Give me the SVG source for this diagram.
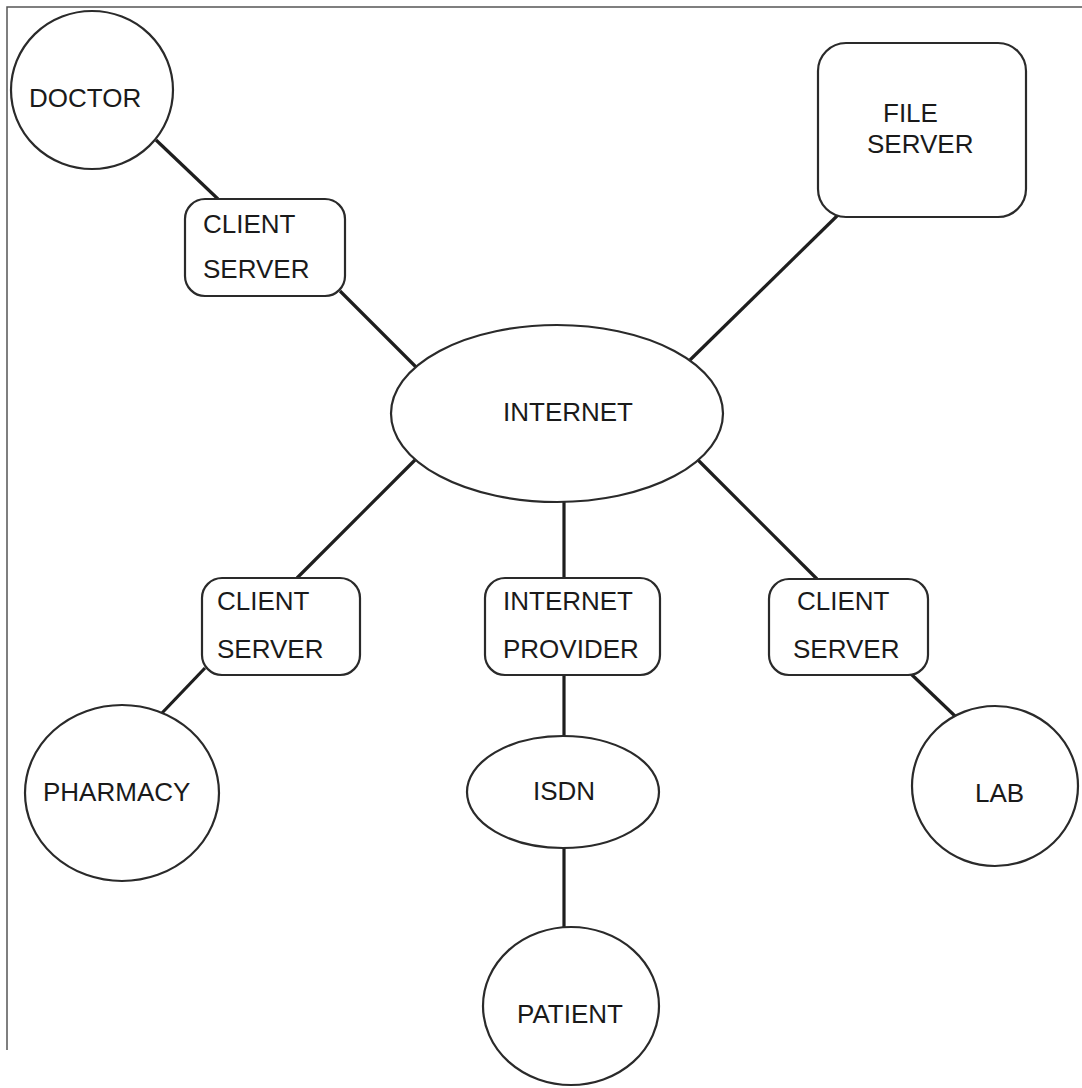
<svg xmlns="http://www.w3.org/2000/svg" width="1082" height="1088" viewBox="0 0 1082 1088">
<style>
.shape{fill:#fff;stroke:#2a2a2a;stroke-width:2.2}
.frame{fill:none;stroke:#555;stroke-width:1.5}
.conn line{stroke:#1e1e1e;stroke-width:3.2;stroke-linecap:butt}
text{font-family:"Liberation Sans",Arial,sans-serif;font-size:26px;fill:#1a1a1a}
</style>
<rect width="1082" height="1088" fill="#fff"/>
<path class="frame" d="M7,1050 V7 H1082"/>
<g id="connectors" class="conn">
<line x1="156" y1="140" x2="218" y2="199"/>
<line x1="340" y1="291" x2="416" y2="367"/>
<line x1="838" y1="215" x2="690" y2="360"/>
<line x1="415" y1="460" x2="297" y2="578"/>
<line x1="698" y1="460" x2="817" y2="579"/>
<line x1="564" y1="502" x2="564" y2="578"/>
<line x1="205" y1="668" x2="162" y2="713"/>
<line x1="910" y1="673" x2="955" y2="716"/>
<line x1="564" y1="675" x2="564" y2="737"/>
<line x1="564" y1="848" x2="564" y2="927"/>
</g>
<g id="doctor"><ellipse class="shape" cx="92" cy="90" rx="81" ry="79"/><text x="29" y="107">DOCTOR</text></g>
<g id="client-server-1"><rect class="shape" x="185" y="199" width="160" height="97" rx="20"/><text x="203" y="233">CLIENT</text><text x="203" y="278">SERVER</text></g>
<g id="file-server"><rect class="shape" x="818" y="43" width="208" height="174" rx="28"/><text x="883" y="122">FILE</text><text x="867" y="153">SERVER</text></g>
<g id="internet"><ellipse class="shape" cx="557" cy="413.5" rx="166" ry="88.5"/><text x="503" y="421">INTERNET</text></g>
<g id="client-server-2"><rect class="shape" x="202" y="578" width="158" height="97" rx="20"/><text x="217" y="610">CLIENT</text><text x="217" y="658">SERVER</text></g>
<g id="internet-provider"><rect class="shape" x="485" y="578" width="175" height="97" rx="20"/><text x="503" y="610">INTERNET</text><text x="503" y="658">PROVIDER</text></g>
<g id="client-server-3"><rect class="shape" x="769" y="579" width="159" height="96" rx="20"/><text x="797" y="610">CLIENT</text><text x="793" y="658">SERVER</text></g>
<g id="pharmacy"><ellipse class="shape" cx="122" cy="793" rx="97" ry="88"/><text x="43" y="801">PHARMACY</text></g>
<g id="isdn"><ellipse class="shape" cx="563" cy="792" rx="96" ry="56"/><text x="533" y="800">ISDN</text></g>
<g id="lab"><ellipse class="shape" cx="995" cy="786" rx="83" ry="80"/><text x="975" y="802">LAB</text></g>
<g id="patient"><ellipse class="shape" cx="571" cy="1006" rx="88" ry="79"/><text x="517" y="1023">PATIENT</text></g>
</svg>
